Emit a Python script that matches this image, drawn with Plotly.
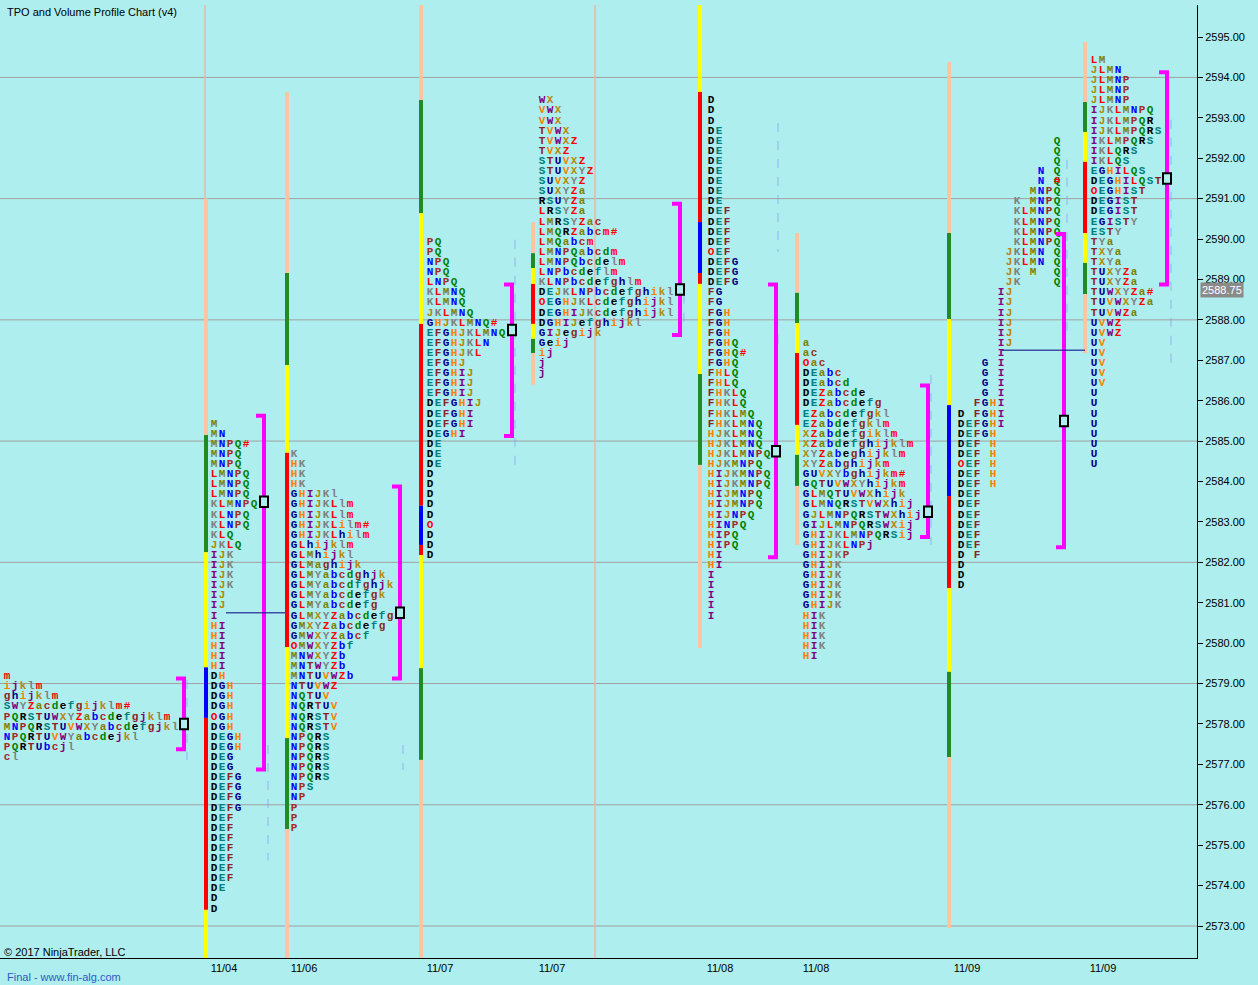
import plotly.graph_objects as go

# ------------------------------------------------------------------ data
TICK = 0.25

# letter sequence used for TPO periods and their colour cycle
period_letters = "DEFGHIJKLMNPQRSTUVWXYZabcdefghijklm"
period_palette = ["#000000", "#008080", "#8B2323", "#00008B", "#FF8000", "#800080",
                  "#B8860B", "#808080", "#FF0000", "#808000", "#0000FF", "#A52A2A", "#008000"]

# profile 1 (partial, left edge)
p1_top = 2579.25
p1_rows = ["m", "ijklm", "ghijklm", "SWYZacdefgijklm#", "PQRSTUWXYZabcdefgjklm",
           "MNPQRSTUVWXYabcdefgjkl", "NPQRTUVWYabcdejkl", "PQRTUbcjl", "cl"]
p1_va = (2579.0, 2577.5, 2578.0)

# profile 2 (11/04)
p2_top = 2585.5
p2_rows = ["M", "MN", "MNPQ#", "MNPQ", "MNPQ", "LMNPQ", "LMNPQ", "LMNPQ", "KLMNPQ", "KLNPQ",
           "KLNPQ", "KLQ", "JKLQ", "IJK", "IJK", "IJK", "IJK", "IJ", "IJ", "I", "HI", "HI", "HI",
           "HI", "HI", "DH", "DGH", "DGH", "DGH", "OGH", "DGH", "DEGH", "DEGH", "DEG", "DEG",
           "DEFG", "DEFG", "DEFG", "DEFG", "DEF", "DEF", "DEF", "DEF", "DEF", "DEF", "DEF",
           "DE", "D", "D"]
p2_va = (2585.5, 2577.0, 2583.5)

# profile 3 (11/06)
p3_top = 2584.75
p3_rows = ["K", "HK", "HK", "HK", "GHIJKl", "GHIJKLlm", "GHIJKLlm", "GHIJKLilm#", "GHIJKLhilm",
           "GLhijklm", "GLMhijkl", "GLMaghijk", "GLMYabcdghjk", "GLMYabcdfghjk", "GLMYabcdefgk",
           "GLMYabcdefg", "GLMXYZabcdefg", "GMXYZabcdefg", "GMWXYZabcf", "OMWXYZbf", "MNWXYZb",
           "MNTWYZb", "MNTUVWZb", "NTUVWZ", "NQTUV", "NQRTUV", "NQRSTV", "NQRSTV", "NPQRS",
           "NPQRS", "NPQRS", "NPQRS", "NPQRS", "NPS", "NP", "P", "P", "P"]
p3_va = (2583.75, 2579.25, 2580.75)

# profile 4 (11/07 a)
p4_top = 2590.0
p4_rows = ["PQ", "PQ", "NPQ", "NPQ", "LNPQ", "KLMNQ", "KLMNQ", "JKLMNQ", "GHJKLMNQ#",
           "EFGHJKLMNQ", "EFGHJKLN", "EFGHJKL", "EFGHJ", "EFGHIJ", "EFGHIJ", "EFGHIJ",
           "DEFGHIJ", "DEFGHI", "DEFGHI", "DEGHI", "DE", "DE", "DE", "D", "D", "D", "D", "D",
           "O", "D", "D", "D"]
p4_va = (2588.75, 2585.25, 2587.75)

# profile 5 (11/07 b)
p5_top = 2593.5
p5_rows = ["WX", "VWX", "VWX", "TVWX", "TVWXZ", "TVXZ", "STUVXZ", "STUVXYZ", "SUVXYZ", "SUXYZa",
           "RSUYZa", "LRSYZa", "LMRSYZac", "LMQRZabcm#", "LMQabcm", "LMNPQabcdm", "LMNPQbcdelm",
           "LNPbcdeflm", "KLNPbcdefghlm", "DEJKLNPbcdefghikl", "OEGHJKLcdefghijkl",
           "DEGHIJKcdefghijkl", "DGHIJefghijkl", "GIJegijk", "Geij", "ij", "j", "j"]
p5_va = (2590.75, 2587.75, 2588.75)

# profile 6 (11/08 a)
p6_top = 2593.5
p6_rows = ["D", "D", "D", "DE", "DE", "DE", "DE", "DE", "DE", "DE", "DE", "DEF", "DEF", "DEF",
           "DEF", "OEF", "DEFG", "DEFG", "DEFG", "FG", "FG", "FGH", "FGH", "FGH", "FGHQ",
           "FGHQ#", "FGHQ", "FHLQ", "FHLQ", "FHKLQ", "FHKLQ", "FHKLMQ", "FHKLMNQ", "HJKLMNQ",
           "HJKLMNQ", "HJKLMNPQ", "HJKMNPQ", "HIJKMNPQ", "HIJKMNPQ", "HIJMNPQ", "HIJMNPQ",
           "HIJNPQ", "HINPQ", "HIPQ", "HIPQ", "HI", "HI", "I", "I", "I", "I", "I"]
p6_va = (2588.75, 2582.25, 2584.75)

# profile 7 (11/08 b)
p7_top = 2587.5
p7_rows = ["a", "ac", "Oac", "DEabc", "DEabcd", "DEZabcde", "DEZabcdefg", "EZabcdefgkl",
           "EZabdefgklm", "XZabdefgiklm", "XZabdefghijklm", "XYZabeghijklm", "XYZabghijkm",
           "GUVXYbghijkm#", "GQTUVWXYhijkm", "GLMQTUVWXhijk", "GLMNQRSTVWXhij",
           "GJLMNPQRSTWXhij", "GIJLMNPQRSWXij", "GHIJKLMNPQRSij", "GHIJKLNPj", "GHIJKP",
           "GHIJK", "GHIJK", "GHIJK", "GHIJK", "GHIJK", "HIK", "HIK", "HIK", "HIK", "HI"]
p7_va = (2586.25, 2582.75, 2583.25)

# profile 8 (11/09 a) - fixed period columns
p8_top = 2592.5
p8_rows = ["            Q", "            Q", "            Q", "          N Q", "          N Q",
           "         MNPQ", "       K MNPQ", "       KLMNPQ", "       KLMNPQ", "       KLMNPQ",
           "       KLMNPQ", "      JKLMN Q", "      JKLMN Q", "      JK M  Q", "      JK    Q",
           "     IJ", "     IJ", "     IJ", "     IJ", "     IJ", "     IJ", "     I",
           "   G I", "   G I", "   G I", "   G I", "  FGHI", "D FGHI", "DEFGHI", "DEFGH",
           "DEF H", "DEF H", "OEF H", "DEF H", "DEF H", "DEF", "DEF", "DEF", "DEF", "DEF",
           "DEF", "D F", "D", "D", "D"]
p8_marks = [(2591.5, 12)]
p8_va = (2590.0, 2582.5, 2585.5)

# profile 9 (11/09 b)
p9_top = 2594.5
p9_rows = ["LM", "JLMN", "JLMNP", "JLMNP", "JLMNP", "IJKLMNPQ", "IJKLMPQR", "IJKLMPQRS",
           "IKLMPQRS", "IKLQRS", "IKLQS", "EGHILQS", "DEGHILQST", "OEGHIST", "DEGIST", "DEGIST",
           "EGISTY", "ESTY", "TYa", "TXYa", "TXYa", "TUXYZa", "TUXYZa", "TUWXYZa#", "TUVWXYZa",
           "TUVWZa", "UVWZ", "UVWZ", "UV", "UV", "UV", "UV", "UV", "U", "U", "U", "U", "U", "U",
           "U", "U"]
p9_va = (2594.0, 2589.0, 2591.5)

# session range bars: price edges and segment colours
PEACH, GREEN, YELLOW, RED, BLUE = "#FFC4A4", "#228B22", "#FFFF00", "#FF0000", "#0000FF"
bar2_edges = [2591.0, 2585.15, 2582.25, 2579.4, 2578.15, 2573.4, 2572.2]
bar2_cols = [PEACH, GREEN, YELLOW, BLUE, RED, YELLOW]
bar3_edges = [2593.64, 2589.16, 2586.88, 2584.71, 2579.9, 2577.65, 2575.4, 2572.2]
bar3_cols = [PEACH, GREEN, YELLOW, RED, YELLOW, GREEN, PEACH]
bar4_edges = [2595.8, 2593.44, 2590.64, 2587.9, 2583.4, 2582.43, 2582.18, 2579.38, 2577.11, 2572.2]
bar4_cols = [PEACH, GREEN, YELLOW, RED, BLUE, RED, YELLOW, GREEN, PEACH]
bar5_edges = [2590.42, 2589.65, 2589.28, 2588.89, 2587.9, 2587.53, 2587.18, 2586.39]
bar5_cols = [PEACH, GREEN, YELLOW, RED, YELLOW, GREEN, PEACH]
bar6_edges = [2595.8, 2593.64, 2590.42, 2589.16, 2588.89, 2586.66, 2584.41, 2579.88]
bar6_cols = [YELLOW, RED, BLUE, RED, YELLOW, GREEN, PEACH]
bar7_edges = [2590.15, 2588.67, 2587.92, 2587.18, 2585.4, 2584.66, 2583.89, 2582.43]
bar7_cols = [PEACH, GREEN, YELLOW, RED, YELLOW, GREEN, PEACH]
bar8_edges = [2594.38, 2590.15, 2588.02, 2585.89, 2583.64, 2581.36, 2579.29, 2577.18, 2572.95]
bar8_cols = [PEACH, GREEN, YELLOW, BLUE, RED, YELLOW, GREEN, PEACH]
bar9_edges = [2594.88, 2593.39, 2592.65, 2591.91, 2590.15, 2589.41, 2588.64, 2587.18]
bar9_cols = [PEACH, GREEN, YELLOW, RED, YELLOW, GREEN, PEACH]

# faint volume-profile columns: (x, price top, price bottom)
volume_cols = [(187, 2579.09, 2577.11), (268, 2577.48, 2574.63), (403, 2577.48, 2576.86),
               (515, 2589.98, 2584.41), (684, 2588.62, 2587.75), (778, 2592.87, 2589.68),
               (778, 2587.63, 2587.2), (931, 2586.64, 2582.43), (1067, 2591.96, 2587.5),
               (1171, 2592.95, 2586.88)]

# level lines (x from, x to, price)
level_lines = [(226, 285, 2580.75), (1002, 1085, 2587.25)]

session_labels = ["11/04", "11/06", "11/07", "11/07", "11/08", "11/08", "11/09", "11/09"]
session_label_x = [224, 304, 440, 552, 720, 816, 967, 1103]
separator_x = [205, 595]
last_price = 2588.75
y_ticks = [2573 + i for i in range(23)]
grid_prices = [2573 + 3 * i for i in range(8)]

# ------------------------------------------------------------------ layout of profiles
CW = 8  # column width (x units)
profiles = [
    dict(top=p1_top, rows=p1_rows, va=p1_va, x0=3, bx=184, bar=None),
    dict(top=p2_top, rows=p2_rows, va=p2_va, x0=210, bx=264, bar=(206, bar2_edges, bar2_cols)),
    dict(top=p3_top, rows=p3_rows, va=p3_va, x0=290, bx=400, bar=(287, bar3_edges, bar3_cols)),
    dict(top=p4_top, rows=p4_rows, va=p4_va, x0=426, bx=512, bar=(421, bar4_edges, bar4_cols)),
    dict(top=p5_top, rows=p5_rows, va=p5_va, x0=538, bx=680, bar=(533, bar5_edges, bar5_cols)),
    dict(top=p6_top, rows=p6_rows, va=p6_va, x0=707, bx=776, bar=(700, bar6_edges, bar6_cols)),
    dict(top=p7_top, rows=p7_rows, va=p7_va, x0=802, bx=928, bar=(797, bar7_edges, bar7_cols)),
    dict(top=p8_top, rows=p8_rows, va=p8_va, x0=957, bx=1064, bar=(949, bar8_edges, bar8_cols),
         marks=p8_marks),
    dict(top=p9_top, rows=p9_rows, va=p9_va, x0=1090, bx=1167, bar=(1085, bar9_edges, bar9_cols)),
]


def letter_color(ch):
    if ch in "O#":
        return "#FF0000"
    return period_palette[period_letters.index(ch) % len(period_palette)]


TEXT_DROP = 0.074  # letters sit slightly below their price level

fig = go.Figure()
shapes = []

for gp in grid_prices:
    shapes.append(dict(type="line", xref="paper", x0=0, x1=1, yref="y", y0=gp, y1=gp,
                       line=dict(color="#A0A0A0", width=1), layer="below"))
for sx in separator_x:
    shapes.append(dict(type="line", xref="x", x0=sx, x1=sx, yref="paper", y0=0, y1=1,
                       line=dict(color="#EDB4A6", width=1.5), layer="below"))
for (vx, vt, vb) in volume_cols:
    shapes.append(dict(type="line", xref="x", yref="y", x0=vx, x1=vx, y0=vt, y1=vb,
                       line=dict(color="rgba(140,160,240,0.4)", width=2, dash="dash"),
                       layer="below"))

for pr in profiles:
    # range bar
    if pr["bar"] is not None:
        bx_, edges, cols = pr["bar"]
        for i, c in enumerate(cols):
            shapes.append(dict(type="line", xref="x", yref="y", x0=bx_, x1=bx_,
                               y0=edges[i], y1=edges[i + 1], line=dict(color=c, width=4)))
    # letters
    xs, ys, ts, cs = [], [], [], []
    for k, row in enumerate(pr["rows"]):
        price = pr["top"] - k * TICK
        for i, ch in enumerate(row):
            if ch == " ":
                continue
            xs.append(pr["x0"] + i * CW + CW / 2)
            ys.append(price - TEXT_DROP)
            ts.append(ch)
            cs.append(letter_color(ch))
    for (mp, mc) in pr.get("marks", []):
        xs.append(pr["x0"] + mc * CW + CW / 2)
        ys.append(mp - TEXT_DROP)
        ts.append("#")
        cs.append("#FF0000")
    fig.add_trace(go.Scatter(x=xs, y=ys, text=ts, mode="text", textposition="middle center",
                             textfont=dict(family="Liberation Mono, DejaVu Sans Mono, monospace",
                                           size=11, weight="bold", color=cs),
                             hoverinfo="skip", showlegend=False))
    # value-area bracket
    vah, val, poc = pr["va"]
    bx = pr["bx"]
    fig.add_trace(go.Scatter(x=[bx - 8, bx, bx, bx - 8],
                             y=[vah + TICK / 2, vah + TICK / 2, val - TICK / 2, val - TICK / 2],
                             mode="lines", line=dict(color="#FF00FF", width=4),
                             hoverinfo="skip", showlegend=False))
    shapes.append(dict(type="rect", xref="x", yref="y", x0=bx - 4, x1=bx + 4,
                       y0=poc - 0.13, y1=poc + 0.13, fillcolor="#AFEEEE",
                       line=dict(color="#000000", width=2)))

for (lx0, lx1, lp) in level_lines:
    shapes.append(dict(type="line", xref="x", yref="y", x0=lx0, x1=lx1, y0=lp, y1=lp,
                       line=dict(color="#000080", width=1)))

BG = "#AFEEEE"
fig.update_layout(
    width=1258, height=985,
    margin=dict(l=0, r=61, t=5, b=27),
    paper_bgcolor=BG, plot_bgcolor=BG,
    shapes=shapes,
    showlegend=False,
    xaxis=dict(range=[0, 1197], showgrid=False, zeroline=False, showline=True,
               linecolor="#000000", linewidth=1, tickvals=session_label_x,
               ticktext=session_labels, ticks="",
               tickfont=dict(family="Liberation Sans, Arial", size=11, color="#000000")),
    yaxis=dict(range=[2572.208, 2595.792], side="right", showgrid=False, zeroline=False,
               showline=True, linecolor="#000000", linewidth=1, tickvals=y_ticks,
               tickformat=".2f", ticks="outside", ticklen=5, tickcolor="#000000",
               tickfont=dict(family="Liberation Sans, Arial", size=11, color="#000000")),
    annotations=[
        dict(text="TPO and Volume Profile Chart (v4)", xref="paper", yref="paper",
             x=0.004, y=0.9927, xanchor="left", yanchor="middle", showarrow=False,
             font=dict(family="Liberation Sans, Arial", size=11, color="#000000")),
        dict(text="© 2017 NinjaTrader, LLC", xref="paper", yref="paper",
             x=0.002, y=0.0063, xanchor="left", yanchor="middle", showarrow=False,
             font=dict(family="Liberation Sans, Arial", size=11, color="#000000")),
        dict(text="Final - www.fin-alg.com", xref="paper", yref="paper",
             x=0.004, y=-0.0199, xanchor="left", yanchor="middle", showarrow=False,
             font=dict(family="Liberation Sans, Arial", size=11, color="#2A5CC8")),
        dict(text=f"{last_price:.2f}", xref="paper", yref="y", x=1, y=last_price,
             xanchor="left", yanchor="middle", xshift=3, showarrow=False,
             bgcolor="#8A8A8A", borderpad=1,
             font=dict(family="Liberation Sans, Arial", size=11, color="#FFFFFF")),
    ],
)

fig.write_html("out.html", config={"displayModeBar": False},
               post_script="document.body.style.margin='0px';document.body.style.background='#AFEEEE';")
